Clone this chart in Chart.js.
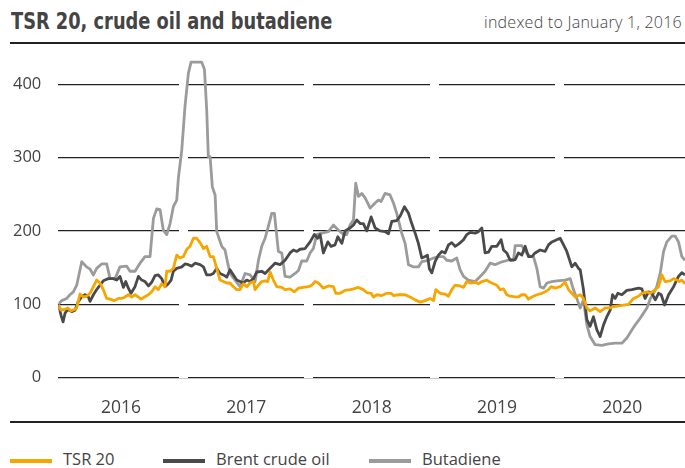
<!DOCTYPE html>
<html>
<head>
    <title>TSR 20, crude oil and butadiene</title>
    <style>
        body {
            margin: 0;
            background: #fff;
            font-family: "Open Sans", sans-serif;
            color: #444;
        }

        .page {
            position: relative;
            width: 685px;
            height: 468px;
            overflow: hidden;
        }

        .title {
            position: absolute;
            left: 11px;
            top: 8px;
            font-family: "Liberation Sans Narrow", "DejaVu Sans Condensed", sans-serif;
            font-weight: bold;
            font-size: 23px;
            color: #444;
            white-space: nowrap;
            transform: scaleX(0.86);
            transform-origin: left top;
        }

        .note {
            position: absolute;
            right: 3px;
            top: 11px;
            font-size: 16px;
            letter-spacing: 0.25px;
            font-weight: 300;
            color: #444;
            white-space: nowrap;
        }

        .rule {
            position: absolute;
            left: 10px;
            right: 0;
            height: 2px;
            background: #222;
        }

        .chart-box {
            position: absolute;
            left: 0;
            top: 0;
            width: 685px;
            height: 420px;
        }

        .legend {
            position: absolute;
            top: 447px;
            font-size: 16.5px;
            color: #444;
            white-space: nowrap;
        }

        .legend span.sw {
            display: inline-block;
            width: 42px;
            height: 4px;
            vertical-align: middle;
            margin-right: 11px;
        }
    </style>
    <script src="https://cdn.jsdelivr.net/npm/chart.js"></script>
</head>
<body>
    <div class="page">
        <div class="title">TSR 20, crude oil and butadiene</div>
        <div class="note">indexed to January 1, 2016</div>
        <div class="rule" style="top: 42px;"></div>
        <div class="chart-box"><canvas id="chart"></canvas></div>
        <div class="rule" style="top: 421px;"></div>
        <div class="legend" style="left: 10px;"><span class="sw" style="background: #f7a600;"></span>TSR 20</div>
        <div class="legend" style="left: 163px;"><span class="sw" style="background: #4a4a4a;"></span>Brent crude oil</div>
        <div class="legend" style="left: 369px;"><span class="sw" style="background: #9b9b9b;"></span>Butadiene</div>
    </div>

    <script>
        // values, x = decimal year
        const yearLabels = ['2016', '2017', '2018', '2019', '2020'];
        const yearBounds = [2017, 2018, 2019, 2020];
        const yTicks = [0, 100, 200, 300, 400];

        const tsrYears = [
            2016.000, 2016.022, 2016.048, 2016.075, 2016.101, 2016.128, 2016.147, 2016.173, 2016.200, 2016.226,
            2016.253, 2016.280, 2016.306, 2016.333, 2016.359, 2016.386, 2016.413, 2016.447, 2016.479, 2016.506,
            2016.532, 2016.559, 2016.586, 2016.612, 2016.639, 2016.660, 2016.687, 2016.719, 2016.745, 2016.772,
            2016.798, 2016.825, 2016.852, 2016.865, 2016.892, 2016.918, 2016.945, 2016.971, 2016.998, 2017.025,
            2017.051, 2017.078, 2017.104, 2017.131, 2017.158, 2017.184, 2017.211, 2017.237, 2017.264, 2017.290,
            2017.317, 2017.344, 2017.370, 2017.397, 2017.424, 2017.450, 2017.477, 2017.503, 2017.530, 2017.557,
            2017.570, 2017.597, 2017.623, 2017.650, 2017.671, 2017.690, 2017.716, 2017.743, 2017.783, 2017.809,
            2017.849, 2017.884, 2017.916, 2017.955, 2017.995, 2018.022, 2018.049, 2018.075, 2018.115, 2018.155,
            2018.195, 2018.214, 2018.248, 2018.288, 2018.328, 2018.355, 2018.395, 2018.434, 2018.461, 2018.496,
            2018.514, 2018.541, 2018.581, 2018.621, 2018.655, 2018.674, 2018.714, 2018.767, 2018.807, 2018.847,
            2018.887, 2018.927, 2018.966, 2018.993, 2019.012, 2019.046, 2019.086, 2019.113, 2019.139, 2019.166,
            2019.206, 2019.233, 2019.259, 2019.286, 2019.326, 2019.352, 2019.379, 2019.419, 2019.445, 2019.472,
            2019.499, 2019.525, 2019.552, 2019.578, 2019.605, 2019.645, 2019.671, 2019.698, 2019.725, 2019.751,
            2019.778, 2019.818, 2019.858, 2019.884, 2019.911, 2019.932, 2019.964, 2020.004, 2020.044, 2020.071,
            2020.097, 2020.124, 2020.164, 2020.190, 2020.217, 2020.243, 2020.283, 2020.323, 2020.363, 2020.403,
            2020.430, 2020.470, 2020.509, 2020.549, 2020.589, 2020.629, 2020.656, 2020.696, 2020.722, 2020.763,
            2020.789, 2020.815, 2020.842, 2020.882, 2020.909, 2020.935, 2020.954, 2020.975, 2021.000
        ];
        const tsrValues = [
            99, 92, 93, 95, 91, 93, 95, 114, 110, 111,
            115, 124, 133, 129, 120, 108, 107, 105, 108, 108,
            110, 113, 110, 113, 110, 107, 110, 113, 117, 124,
            120, 128, 124, 145, 145, 149, 167, 163, 165, 175,
            179, 190, 190, 184, 176, 179, 165, 165, 149, 133,
            131, 129, 129, 124, 120, 120, 128, 124, 129, 131,
            120, 126, 131, 132, 131, 144, 133, 124, 123, 120,
            121, 117, 122, 123, 124, 126, 131, 129, 122, 125,
            124, 115, 115, 119, 120, 121, 123, 120, 116, 115,
            110, 113, 112, 115, 115, 112, 113, 113, 110, 106,
            103, 105, 108, 105, 120, 115, 114, 111, 120, 126,
            125, 123, 131, 129, 130, 128, 131, 133, 130, 128,
            126, 120, 121, 113, 111, 110, 110, 113, 113, 107,
            110, 113, 115, 117, 120, 124, 122, 124, 130, 120,
            115, 110, 113, 108, 95, 91, 95, 90, 95, 95,
            97, 98, 99, 100, 108, 111, 115, 117, 115, 120,
            124, 140, 131, 132, 135, 133, 131, 133, 128
        ];

        const brentYears = [
            2016.000, 2016.022, 2016.038, 2016.054, 2016.075, 2016.107, 2016.133, 2016.160, 2016.187, 2016.213,
            2016.240, 2016.253, 2016.280, 2016.306, 2016.333, 2016.359, 2016.399, 2016.439, 2016.466, 2016.492,
            2016.519, 2016.538, 2016.559, 2016.580, 2016.612, 2016.639, 2016.665, 2016.692, 2016.719, 2016.745,
            2016.772, 2016.798, 2016.825, 2016.852, 2016.878, 2016.900, 2016.918, 2016.945, 2016.985, 2017.011,
            2017.038, 2017.064, 2017.091, 2017.131, 2017.158, 2017.184, 2017.211, 2017.237, 2017.264, 2017.290,
            2017.317, 2017.344, 2017.370, 2017.397, 2017.424, 2017.450, 2017.477, 2017.503, 2017.530, 2017.557,
            2017.583, 2017.623, 2017.650, 2017.690, 2017.729, 2017.769, 2017.809, 2017.849, 2017.876, 2017.902,
            2017.929, 2017.969, 2018.009, 2018.043, 2018.070, 2018.089, 2018.115, 2018.150, 2018.176, 2018.208,
            2018.230, 2018.262, 2018.288, 2018.328, 2018.355, 2018.381, 2018.408, 2018.434, 2018.461, 2018.496,
            2018.528, 2018.567, 2018.607, 2018.634, 2018.661, 2018.700, 2018.727, 2018.762, 2018.794, 2018.820,
            2018.847, 2018.873, 2018.900, 2018.927, 2018.945, 2018.961, 2018.980, 2019.006, 2019.033, 2019.060,
            2019.086, 2019.113, 2019.139, 2019.166, 2019.193, 2019.233, 2019.259, 2019.286, 2019.326, 2019.352,
            2019.379, 2019.405, 2019.432, 2019.459, 2019.499, 2019.533, 2019.552, 2019.578, 2019.605, 2019.645,
            2019.671, 2019.698, 2019.725, 2019.751, 2019.778, 2019.804, 2019.844, 2019.884, 2019.911, 2019.938,
            2019.977, 2020.004, 2020.031, 2020.057, 2020.097, 2020.124, 2020.150, 2020.164, 2020.190, 2020.217,
            2020.243, 2020.270, 2020.297, 2020.323, 2020.350, 2020.376, 2020.403, 2020.422, 2020.443, 2020.464,
            2020.496, 2020.536, 2020.576, 2020.603, 2020.629, 2020.656, 2020.682, 2020.709, 2020.736, 2020.763,
            2020.789, 2020.810, 2020.837, 2020.869, 2020.909, 2020.948, 2020.975, 2021.000
        ];
        const brentValues = [
            100, 85, 76, 88, 93, 90, 92, 104, 110, 113,
            110, 104, 113, 120, 126, 132, 135, 135, 133, 138,
            123, 131, 122, 115, 124, 138, 133, 131, 125, 130,
            139, 140, 135, 124, 128, 133, 145, 149, 151, 155,
            154, 152, 156, 154, 151, 140, 140, 142, 149, 142,
            140, 137, 147, 140, 133, 131, 129, 133, 131, 135,
            144, 145, 142, 149, 156, 154, 160, 170, 174, 172,
            175, 176, 185, 195, 190, 195, 170, 185, 179, 181,
            192, 183, 200, 204, 208, 215, 210, 210, 200, 219,
            204, 200, 199, 196, 213, 214, 220, 233, 224, 210,
            197, 183, 163, 165, 167, 148, 143, 158, 167, 172,
            170, 181, 184, 179, 182, 188, 195, 198, 197, 199,
            204, 170, 171, 179, 179, 188, 174, 170, 160, 161,
            170, 167, 179, 165, 165, 170, 174, 172, 181, 185,
            188, 190, 181, 172, 151, 156, 149, 147, 120, 79,
            70, 83, 65, 56, 72, 83, 92, 113, 108, 115,
            113, 119, 120, 121, 122, 121, 108, 117, 115, 106,
            115, 113, 99, 113, 124, 138, 143, 140
        ];

        const butaYears = [
            2016.000, 2016.027, 2016.067, 2016.093, 2016.120, 2016.147, 2016.187, 2016.226, 2016.253, 2016.280,
            2016.306, 2016.346, 2016.386, 2016.413, 2016.453, 2016.492, 2016.546, 2016.572, 2016.612, 2016.652,
            2016.692, 2016.732, 2016.759, 2016.785, 2016.812, 2016.838, 2016.865, 2016.892, 2016.918, 2016.945,
            2016.958, 2016.985, 2017.011, 2017.038, 2017.059, 2017.144, 2017.166, 2017.184, 2017.197, 2017.211,
            2017.229, 2017.251, 2017.264, 2017.304, 2017.330, 2017.352, 2017.370, 2017.410, 2017.450, 2017.490,
            2017.530, 2017.570, 2017.597, 2017.623, 2017.650, 2017.676, 2017.703, 2017.724, 2017.756, 2017.783,
            2017.809, 2017.849, 2017.889, 2017.916, 2017.942, 2017.982, 2018.009, 2018.035, 2018.062, 2018.102,
            2018.155, 2018.195, 2018.235, 2018.275, 2018.301, 2018.328, 2018.355, 2018.373, 2018.395, 2018.421,
            2018.448, 2018.488, 2018.528, 2018.554, 2018.575, 2018.607, 2018.647, 2018.674, 2018.700, 2018.740,
            2018.767, 2018.794, 2018.833, 2018.873, 2018.900, 2018.953, 2018.993, 2019.033, 2019.073, 2019.099,
            2019.139, 2019.179, 2019.206, 2019.233, 2019.272, 2019.326, 2019.366, 2019.405, 2019.445, 2019.485,
            2019.525, 2019.565, 2019.605, 2019.632, 2019.645, 2019.698, 2019.725, 2019.765, 2019.791, 2019.818,
            2019.844, 2019.871, 2019.898, 2019.938, 2019.977, 2020.044, 2020.084, 2020.110, 2020.137, 2020.164,
            2020.190, 2020.217, 2020.243, 2020.283, 2020.337, 2020.390, 2020.443, 2020.496, 2020.536, 2020.576,
            2020.603, 2020.642, 2020.669, 2020.696, 2020.722, 2020.749, 2020.775, 2020.802, 2020.829, 2020.855,
            2020.895, 2020.922, 2020.948, 2020.975, 2021.000
        ];
        const butaValues = [
            100, 105, 108, 113, 117, 126, 158, 151, 148, 140,
            149, 155, 155, 135, 135, 151, 152, 145, 145, 156,
            165, 165, 217, 230, 229, 201, 195, 210, 233, 242,
            272, 310, 370, 415, 430, 430, 420, 365, 301, 301,
            260, 249, 199, 179, 174, 156, 142, 133, 124, 142,
            140, 131, 160, 179, 190, 206, 224, 224, 172, 170,
            138, 137, 142, 146, 159, 159, 170, 176, 195, 197,
            199, 208, 201, 195, 195, 208, 215, 265, 247, 251,
            245, 231, 238, 242, 240, 251, 249, 238, 224, 197,
            183, 154, 151, 151, 158, 160, 163, 165, 165, 160,
            159, 163, 147, 138, 133, 131, 138, 145, 156, 154,
            157, 159, 161, 160, 180, 180, 172, 165, 165, 149,
            124, 122, 129, 131, 132, 133, 135, 120, 108, 95,
            106, 72, 56, 45, 44, 46, 47, 47, 54, 65,
            72, 81, 88, 95, 107, 115, 124, 142, 172, 185,
            193, 193, 185, 165, 160
        ];

        function toPoints(xs, ys) {
            return xs.map((x, i) => ({ x: x, y: ys[i] }));
        }

        const lineStyle = {
            pointRadius: 0,
            borderWidth: 2.8,
            borderJoinStyle: 'round',
            fill: false,
            tension: 0,
            xAxisID: 'x',
            yAxisID: 'y'
        };

        const ctx = document.getElementById('chart').getContext('2d');
        new Chart(ctx, {
            type: 'line',
            data: {
                datasets: [
                    Object.assign({ label: 'TSR 20', data: toPoints(tsrYears, tsrValues), borderColor: '#f7a600' }, lineStyle),
                    Object.assign({ label: 'Brent crude oil', data: toPoints(brentYears, brentValues), borderColor: '#4a4a4a' }, lineStyle),
                    Object.assign({ label: 'Butadiene', data: toPoints(butaYears, butaValues), borderColor: '#9b9b9b' }, lineStyle)
                ]
            },
            options: {
                responsive: true,
                maintainAspectRatio: false,
                animation: false,
                layout: { padding: { top: 47.4, left: 0, right: 0, bottom: 0 } },
                plugins: {
                    legend: { display: false },
                    tooltip: { enabled: false }
                },
                scales: {
                    y: {
                        min: 0,
                        max: 450,
                        afterBuildTicks: s => { s.ticks = yTicks.map(v => ({ value: v })); },
                        afterFit: s => { s.width = 58.3; },
                        border: { display: false },
                        grid: { color: '#222', lineWidth: 1.2, drawTicks: false, z: -1 },
                        ticks: { padding: 17, color: '#444', font: { family: 'Open Sans', size: 16.5 } }
                    },
                    x: {
                        type: 'linear',
                        position: 'bottom',
                        min: 2016,
                        max: 2021,
                        afterBuildTicks: s => { s.ticks = yearBounds.map(v => ({ value: v })); },
                        afterFit: s => { s.height = 0; },
                        border: { display: false },
                        grid: { color: '#fff', lineWidth: 9, drawTicks: false, z: 0 },
                        ticks: { display: false }
                    },
                    xl: {
                        type: 'category',
                        position: 'bottom',
                        labels: yearLabels,
                        offset: true,
                        afterFit: s => { s.height = 42.3; },
                        border: { display: false },
                        grid: { display: false },
                        ticks: { padding: 12, color: '#444', font: { family: 'Open Sans', size: 17.5 } }
                    }
                }
            }
        });
    </script>
</body>
</html>
